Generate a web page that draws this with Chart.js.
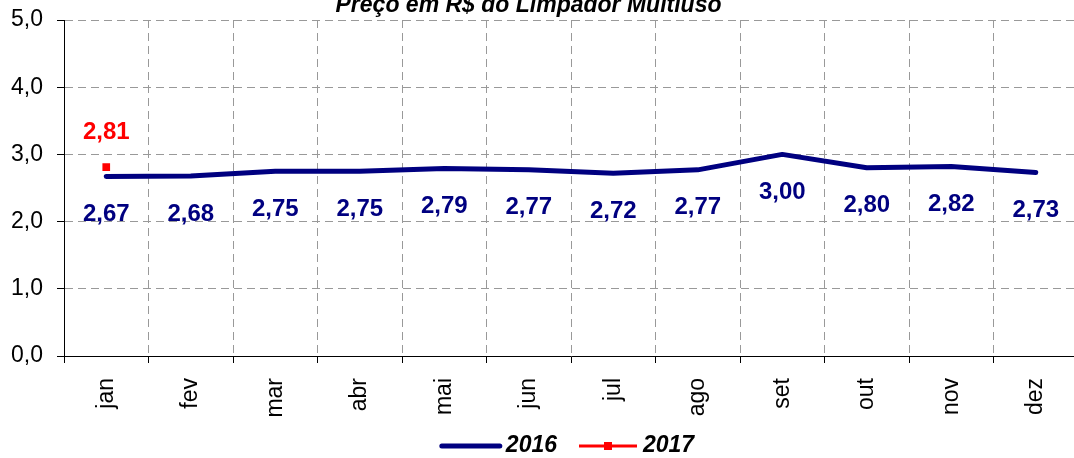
<!DOCTYPE html>
<html>
<head>
<meta charset="utf-8">
<script src="https://cdn.jsdelivr.net/npm/chart.js@4.4.0/dist/chart.umd.min.js"></script>
<style>
html, body { margin:0; padding:0; background:#fff; }
#wrap { width:1074px; height:458px; overflow:hidden; }
</style>
</head>
<body>
<!-- the original plot runs a little past the right edge, so the canvas is wider than the frame -->
<div id="wrap"><canvas id="chart" width="1084" height="458"></canvas></div>
<script>
// chart data
const months = ['jan','fev','mar','abr','mai','jun','jul','ago','set','out','nov','dez'];
const prices2016 = [2.67, 2.68, 2.75, 2.75, 2.79, 2.77, 2.72, 2.77, 3.00, 2.80, 2.82, 2.73];
const prices2017 = [2.81, null, null, null, null, null, null, null, null, null, null, null];
const seriesNames = ['2016', '2017'];
const titleText = 'Preço em R$ do Limpador Multiuso';

const FONT = '"Liberation Sans", Arial, sans-serif';
const NAVY = '#000080';
const RED = '#ff0000';

function fmt(v, d){ return v.toFixed(d).replace('.', ','); }

// value labels next to each point
const valueLabels = {
    id: 'valueLabels',
    afterDatasetsDraw(chart){
        const ctx = chart.ctx;
        const offsets = [38, -35];
        ctx.save();
        ctx.font = 'bold 24px ' + FONT;
        ctx.textAlign = 'center';
        ctx.textBaseline = 'middle';
        chart.data.datasets.forEach(function(ds, i){
            const meta = chart.getDatasetMeta(i);
            ctx.fillStyle = ds.borderColor;
            meta.data.forEach(function(pt, j){
                const v = ds.data[j];
                if(v === null || v === undefined) return;
                ctx.fillText(fmt(v, 2), pt.x, pt.y + offsets[i]);
            });
        });
        ctx.restore();
    }
};

// title, cut at the top like the original
const topTitle = {
    id: 'topTitle',
    afterDraw(chart){
        const ctx = chart.ctx;
        const a = chart.chartArea;
        ctx.save();
        ctx.font = 'italic bold 23px ' + FONT;
        ctx.fillStyle = '#000';
        ctx.textAlign = 'center';
        ctx.textBaseline = 'alphabetic';
        ctx.fillText(titleText, (a.left + a.right) / 2 - 42.5, 12);
        ctx.restore();
    }
};

// legend drawn at the bottom
const bottomLegend = {
    id: 'bottomLegend',
    afterDraw(chart){
        const ctx = chart.ctx;
        const a = chart.chartArea;
        ctx.save();
        ctx.font = 'italic bold 23px ' + FONT;
        const w0 = ctx.measureText(seriesNames[0]).width;
        const w1 = ctx.measureText(seriesNames[1]).width;
        const lineLen = 58, gap = 6, itemGap = 22;
        const total = lineLen + gap + w0 + itemGap + lineLen + gap + w1;
        let x = (a.left + a.right) / 2 - 3 - total / 2;
        const y = chart.height - 12;

        ctx.lineCap = 'round';
        ctx.strokeStyle = NAVY;
        ctx.lineWidth = 5;
        ctx.beginPath(); ctx.moveTo(x, y); ctx.lineTo(x + lineLen, y); ctx.stroke();
        x += lineLen + gap;
        ctx.fillStyle = '#000';
        ctx.textBaseline = 'middle';
        ctx.fillText(seriesNames[0], x, y);
        x += w0 + itemGap;

        ctx.lineCap = 'butt';
        ctx.strokeStyle = RED;
        ctx.lineWidth = 3;
        ctx.beginPath(); ctx.moveTo(x, y); ctx.lineTo(x + lineLen, y); ctx.stroke();
        ctx.fillStyle = RED;
        ctx.fillRect(x + lineLen / 2 - 4, y - 4, 8, 8);
        x += lineLen + gap;
        ctx.fillStyle = '#000';
        ctx.fillText(seriesNames[1], x, y);
        ctx.restore();
    }
};

new Chart(document.getElementById('chart'), {
    type: 'line',
    data: {
        labels: months,
        datasets: [{
            label: seriesNames[0],
            data: prices2016,
            borderColor: NAVY,
            backgroundColor: NAVY,
            borderWidth: 5,
            borderCapStyle: 'round',
            borderJoinStyle: 'round',
            pointRadius: 0,
            tension: 0
        }, {
            label: seriesNames[1],
            data: prices2017,
            borderColor: RED,
            backgroundColor: RED,
            borderWidth: 2,
            pointStyle: 'rect',
            pointRadius: 4,
            showLine: false
        }]
    },
    options: {
        responsive: false,
        animation: false,
        devicePixelRatio: 1,
        layout: { padding: { top: 20, right: 0, bottom: 38, left: 0 } },
        plugins: {
            legend: { display: false },
            title: { display: false },
            tooltip: { enabled: false }
        },
        scales: {
            x: {
                offset: true,
                grid: {
                    offset: true,
                    color: '#999',
                    tickColor: '#000',
                    tickLength: 7,
                    lineWidth: 1
                },
                border: { color: '#000', width: 1, dash: [8, 5] },
                ticks: {
                    color: '#000',
                    font: { family: FONT, size: 23 },
                    minRotation: 90,
                    maxRotation: 90,
                    padding: 15,
                    autoSkip: false
                },
                afterFit(scale){
                    scale.height = 64;
                    scale.paddingLeft = 0;
                    scale.paddingRight = 0;
                }
            },
            y: {
                min: 0,
                max: 5,
                grid: {
                    color: '#999',
                    tickColor: '#000',
                    tickLength: 7,
                    lineWidth: 1
                },
                border: { color: '#000', width: 1, dash: [8, 5] },
                ticks: {
                    stepSize: 1,
                    color: '#000',
                    font: { family: FONT, size: 23 },
                    padding: 14,
                    callback: function(v){ return fmt(v, 1); }
                },
                afterFit(scale){
                    scale.width = 64;
                    scale.paddingTop = 0;
                    scale.paddingBottom = 0;
                }
            }
        }
    },
    plugins: [valueLabels, topTitle, bottomLegend]
});
</script>
</body>
</html>
